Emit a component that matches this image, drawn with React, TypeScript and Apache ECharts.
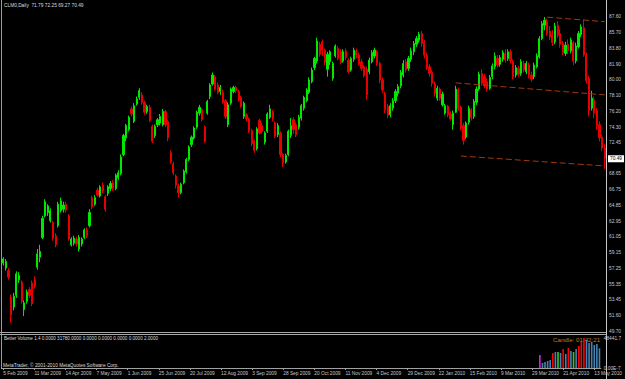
import React, { useEffect, useRef } from "react";
import * as echarts from "echarts";

const symbolTitle = "CLM0,Daily  71.79 72.25 69.27 70.49";
const indicatorTitle = "Better Volume 1.4 0.0000 31780.0000 0.0000 0.0000 0.0000 0.0000 2.0000";
const copyright = "MetaTrader, \u00a9 2001-2010 MetaQuotes Software Corp.";
const candleTimer = "Candle: 01:42:21";

// [open, close, low, high]
const candlesPart1 = [
  [57.9, 58.4, 57.6, 58.6], [57.3, 58.1, 57.0, 58.4], [57.0, 56.2, 55.9, 57.3], [53.8, 51.6, 50.7, 54.1],
  [52.6, 53.9, 52.2, 54.3], [54.0, 56.6, 53.7, 56.9], [55.9, 56.4, 55.5, 56.8], [55.6, 53.3, 53.0, 55.8],
  [52.3, 53.1, 51.5, 53.4], [53.3, 54.4, 53.0, 54.7], [54.7, 54.0, 53.7, 55.0], [55.5, 53.0, 52.7, 55.8],
  [55.9, 55.1, 54.8, 56.3], [57.4, 59.0, 57.1, 59.6], [58.6, 59.3, 58.0, 60.1], [61.0, 63.3, 60.8, 63.6],
  [63.6, 65.3, 63.4, 65.6], [64.0, 64.8, 63.6, 65.0], [63.0, 64.2, 62.8, 64.5], [62.8, 60.9, 60.6, 63.0],
  [61.2, 60.1, 59.8, 61.5], [62.4, 65.0, 62.2, 65.3], [64.2, 65.4, 64.0, 65.8], [64.4, 64.9, 64.0, 65.3],
  [65.0, 64.3, 64.0, 65.3], [63.6, 60.8, 60.6, 63.8], [60.1, 60.8, 59.9, 61.0], [60.3, 60.9, 60.0, 61.2],
  [60.8, 60.2, 59.9, 61.1], [59.6, 61.0, 59.3, 61.3], [60.2, 60.8, 59.9, 61.0], [61.0, 61.9, 60.8, 62.1],
  [61.9, 61.2, 60.9, 62.2], [62.4, 64.0, 62.2, 64.4], [65.8, 64.7, 64.4, 66.0], [65.0, 65.8, 64.8, 66.1],
  [66.7, 66.1, 65.9, 67.0], [66.0, 67.1, 65.8, 67.3], [67.3, 66.6, 66.3, 67.6], [65.9, 64.4, 64.1, 66.1],
  [66.3, 67.1, 66.0, 67.3], [66.9, 67.5, 66.6, 67.8], [67.6, 66.9, 66.6, 67.9], [66.9, 68.5, 66.7, 68.7],
  [68.2, 68.8, 67.9, 69.1], [68.7, 70.7, 68.5, 71.0], [71.0, 73.3, 70.8, 73.5], [73.0, 74.5, 72.6, 74.7],
  [74.0, 75.5, 73.8, 75.7], [76.5, 75.9, 75.6, 76.8], [75.0, 76.9, 74.8, 77.2], [77.1, 77.7, 76.9, 78.0],
  [77.9, 78.7, 77.6, 79.0], [78.2, 77.3, 77.0, 78.5], [77.3, 76.1, 75.8, 77.5], [76.2, 76.8, 75.9, 77.0],
  [76.7, 75.1, 74.9, 77.0], [74.4, 72.6, 72.4, 74.6],
];
const candlesPart2 = [
  [73.3, 74.4, 73.0, 74.6], [74.6, 75.2, 74.3, 75.4], [74.8, 75.6, 74.5, 75.9], [74.6, 76.2, 74.4, 76.5],
  [76.2, 74.6, 74.3, 76.4], [75.0, 73.0, 72.6, 75.2], [71.2, 70.1, 69.9, 71.5], [69.9, 68.8, 68.5, 70.1],
  [68.4, 67.3, 66.9, 68.6], [67.2, 66.4, 65.8, 67.5], [66.4, 67.4, 66.2, 67.6], [67.6, 69.0, 67.4, 69.2],
  [68.9, 70.4, 68.7, 70.6], [70.4, 71.9, 70.2, 72.1], [72.2, 73.1, 71.9, 73.3], [73.0, 74.2, 72.8, 74.4],
  [74.3, 76.1, 74.1, 76.3], [76.0, 76.7, 75.7, 77.0], [76.4, 75.2, 75.0, 76.6], [74.3, 72.6, 72.4, 74.5],
  [76.0, 77.4, 75.8, 77.6], [78.0, 79.4, 77.7, 79.6], [79.5, 80.6, 79.3, 80.9], [80.4, 78.9, 78.7, 80.6],
  [79.4, 78.5, 78.3, 79.7], [78.6, 79.1, 78.2, 79.4], [78.5, 77.3, 77.1, 78.8], [77.5, 75.6, 75.3, 77.7],
  [74.6, 77.0, 74.3, 77.3], [77.2, 78.9, 77.0, 79.1], [78.6, 79.1, 78.4, 79.3], [79.1, 78.7, 78.4, 79.3],
  [78.6, 77.6, 77.4, 78.8], [77.9, 76.8, 76.6, 78.1], [75.6, 77.2, 75.3, 77.4], [75.8, 75.3, 75.0, 76.0],
  [75.3, 73.8, 73.6, 75.5], [73.9, 72.3, 72.0, 74.1], [72.6, 71.5, 71.2, 72.8], [71.7, 74.1, 71.5, 74.3],
  [75.1, 73.6, 73.4, 75.3], [74.5, 73.8, 73.5, 74.8], [72.5, 73.6, 72.2, 73.8], [73.8, 75.9, 73.6, 76.1],
  [75.5, 76.5, 75.3, 77.0], [76.2, 75.3, 75.0, 76.4], [74.8, 73.2, 73.0, 75.0], [73.4, 74.5, 73.1, 74.8],
  [73.6, 71.0, 70.7, 73.8], [71.0, 70.0, 69.5, 71.2], [70.1, 70.9, 69.9, 71.1], [71.0, 73.8, 70.8, 74.0],
  [73.3, 74.5, 73.0, 75.4], [75.2, 74.0, 73.5, 75.5], [74.6, 73.4, 73.1, 74.9], [74.3, 75.5, 74.0, 75.8],
  [75.4, 76.9, 75.1, 77.1], [76.6, 77.9, 76.3, 78.1],
];
const candlesPart3 = [
  [77.5, 78.8, 77.3, 79.0], [78.5, 80.0, 78.3, 80.3], [79.8, 81.2, 79.6, 81.5], [81.5, 82.6, 81.2, 82.8],
  [82.3, 84.7, 82.0, 85.1], [84.3, 83.1, 82.8, 84.6], [84.6, 83.6, 82.9, 84.9], [83.6, 82.1, 81.8, 83.8],
  [81.3, 83.1, 80.4, 83.4], [82.2, 83.4, 81.8, 83.6], [80.2, 82.0, 79.9, 82.2], [82.9, 84.1, 82.7, 84.3],
  [83.8, 82.6, 82.4, 84.1], [83.4, 82.1, 81.9, 83.7], [82.3, 83.4, 82.1, 83.7], [83.5, 82.7, 82.4, 83.8],
  [82.4, 81.0, 80.8, 82.6], [81.2, 82.6, 81.0, 82.8], [82.5, 83.6, 82.2, 83.9], [83.5, 83.0, 82.6, 83.8],
  [83.0, 82.0, 81.8, 83.3], [82.2, 81.4, 81.1, 82.5], [81.6, 80.5, 80.3, 81.8], [81.3, 78.2, 77.6, 81.6],
  [81.0, 82.4, 80.7, 82.7], [82.2, 83.3, 82.0, 83.6], [82.9, 83.6, 82.6, 83.9], [83.4, 82.0, 81.7, 83.6],
  [82.0, 80.0, 79.6, 82.2], [80.0, 78.8, 78.4, 80.3], [78.3, 76.4, 76.0, 78.6], [76.8, 75.7, 75.4, 77.1],
  [75.8, 76.9, 75.5, 77.2], [76.6, 77.5, 76.3, 77.8], [77.5, 78.6, 77.2, 78.9], [78.4, 79.2, 78.0, 79.5],
  [79.3, 80.9, 79.0, 81.2], [80.6, 82.0, 80.3, 82.4], [82.2, 81.2, 80.9, 82.5], [81.4, 82.6, 81.1, 82.9],
  [82.5, 83.5, 82.2, 83.9], [83.4, 84.4, 83.0, 84.7], [84.3, 85.0, 84.0, 85.3], [84.8, 85.5, 84.5, 85.8],
  [85.6, 84.4, 84.0, 85.9], [84.5, 83.0, 82.6, 84.8], [83.0, 81.5, 81.2, 83.3], [81.6, 80.8, 80.4, 81.9],
  [80.9, 79.6, 79.2, 81.2], [79.5, 78.4, 78.0, 79.8], [77.8, 79.0, 77.5, 79.3], [78.9, 77.8, 77.5, 79.1],
  [77.0, 78.3, 76.8, 78.6], [76.0, 76.9, 75.8, 77.1], [76.8, 75.8, 75.5, 77.0], [75.9, 75.3, 75.1, 76.2],
  [74.6, 76.0, 74.0, 76.3],
];
const candlesPart4 = [
  [76.1, 78.9, 76.0, 79.3], [78.8, 76.6, 76.3, 79.1], [76.7, 74.2, 73.9, 76.9], [74.5, 72.7, 72.2, 74.8],
  [73.1, 74.8, 72.9, 75.0], [74.9, 76.6, 74.6, 76.9], [76.4, 75.4, 75.1, 76.6], [75.6, 77.4, 75.3, 77.7],
  [77.3, 78.9, 77.0, 79.2], [78.9, 80.7, 78.7, 81.0], [80.8, 79.6, 79.3, 81.3], [80.4, 79.3, 79.0, 80.7],
  [79.8, 78.9, 78.6, 80.2], [79.0, 80.3, 78.8, 80.6], [80.4, 81.7, 80.1, 82.0], [81.6, 82.9, 81.3, 83.3],
  [82.6, 81.8, 81.5, 83.0], [81.9, 82.7, 81.6, 83.0], [82.5, 83.3, 82.2, 83.6], [83.2, 82.4, 82.1, 83.7],
  [82.6, 83.4, 82.3, 83.7], [83.4, 82.3, 82.0, 83.7], [82.2, 80.4, 80.1, 82.5], [80.6, 81.5, 80.3, 81.8],
  [81.4, 80.7, 80.4, 81.7], [80.8, 82.2, 80.5, 82.5], [82.0, 81.2, 80.9, 82.3], [81.0, 82.0, 80.7, 82.3],
  [81.8, 80.6, 80.2, 82.1], [80.6, 80.1, 79.8, 81.0], [80.4, 81.8, 80.1, 82.1], [81.6, 82.9, 81.4, 83.2],
  [82.8, 85.0, 82.6, 85.3], [85.0, 86.8, 84.8, 87.1], [86.6, 87.2, 86.0, 87.6], [87.0, 85.6, 85.3, 87.4],
  [85.9, 85.2, 84.8, 86.5], [85.4, 84.5, 84.1, 86.0], [84.6, 86.5, 84.3, 86.9], [86.6, 85.4, 85.1, 87.1],
  [85.6, 84.3, 83.9, 86.1], [84.4, 83.3, 83.0, 84.7], [83.2, 84.2, 82.9, 84.6], [84.3, 83.5, 83.1, 84.9],
  [83.5, 84.8, 83.2, 85.1], [84.5, 82.3, 81.8, 84.7], [82.3, 84.1, 82.0, 84.5], [84.0, 85.6, 83.8, 85.9],
  [85.5, 86.4, 85.2, 86.7], [86.3, 83.0, 82.8, 87.3], [83.0, 79.9, 79.6, 83.3], [80.2, 76.3, 75.6, 80.5],
  [76.6, 77.8, 76.3, 78.7], [77.6, 76.0, 75.4, 78.0], [76.3, 74.5, 74.0, 76.6], [74.6, 73.0, 72.6, 75.0],
  [73.1, 71.8, 71.4, 73.4], [71.79, 70.49, 69.27, 72.25],
];

const currentPrice = 70.49;
const priceTicks = [49.7, 51.6, 53.45, 55.35, 57.25, 59.15, 61.05, 62.95, 64.85, 66.75, 68.65,
  72.45, 74.3, 76.2, 78.1, 80.0, 81.9, 83.8, 85.7, 87.6];
const priceMin = 49.7;
const priceMax = 89.41;

const dateTicks = ["5 Feb 2009", "11 Mar 2009", "14 Apr 2009", "7 May 2009", "1 Jun 2009", "25 Jun 2009",
  "20 Jul 2009", "12 Aug 2009", "3 Sep 2009", "28 Sep 2009", "20 Oct 2009", "11 Nov 2009", "4 Dec 2009",
  "29 Dec 2009", "22 Jan 2010", "15 Feb 2010", "9 Mar 2010", "29 Mar 2010", "21 Apr 2010", "13 May 2010"];
const barsPerDateTick = 12;

// trend channel lines: [bar index, price]
const upperChannel = [[208, 87.58], [230, 87.03]];
const middleChannel = [[173, 79.65], [230, 78.2]];
const lowerChannel = [[175, 70.82], [230, 69.62]];

// Better Volume (last bars only)
const volumeStartIndex = 207;
const volumeRecent = [21000, 8100, 9700, 11300, 12900, 24200, 25800, 25800, 24200, 30700, 22600, 32300,
  27500, 25800, 30700, 35500, 42000, 48441.7, 45200, 40400, 42000, 37100, 38800, 31780];
const volumeKinds = ["churn", "normal", "normal", "normal", "normal", "climax", "normal", "low", "normal",
  "climax", "normal", "climax", "normal", "low", "normal", "climax", "climax", "climax", "normal", "normal",
  "normal", "normal", "normal", "normal"];
const volumeMax = 48441.7;
const volumeAxisLabels = ["0.00E-7", "48441.7"];

const BULL = "#00e800";
const BEAR = "#e80000";
const TEXT = "#c8c8c8";
const FONT = "'Liberation Sans', Arial, sans-serif";
const volumeColorMap: Record<string, string> = {
  normal: "#4682b4",
  climax: "#ff0000",
  low: "#2ecc2e",
  churn: "#e020e0",
};

export default function App() {
  const ref = useRef<HTMLDivElement>(null);
  useEffect(() => {
    if (!ref.current) return;
    const chart = echarts.init(ref.current, undefined, { renderer: "svg" });
    const candles = [...candlesPart1, ...candlesPart2, ...candlesPart3, ...candlesPart4];
    const barIds = candles.map((_, i) => String(i));
    const volumeData = candles.map((_, i) => {
      const k = i - volumeStartIndex;
      if (k < 0 || k >= volumeRecent.length) return "-";
      return { value: volumeRecent[k], itemStyle: { color: volumeColorMap[volumeKinds[k]] } };
    });
    const channelStyle = { color: "#a3380c", width: 1, type: [6, 3] as any };

    const option: any = {
      animation: false,
      backgroundColor: "#000000",
      textStyle: { fontFamily: FONT },
      grid: [
        { left: 2, right: 19, top: 2, height: 329 },
        { left: 2, right: 19, top: 338, height: 30 },
      ],
      xAxis: [
        {
          type: "category", gridIndex: 0, data: barIds, boundaryGap: true,
          axisLine: { show: false }, axisTick: { show: false }, axisLabel: { show: false }, splitLine: { show: false },
        },
        {
          type: "category", gridIndex: 1, data: barIds, boundaryGap: true,
          axisLine: { show: true, lineStyle: { color: "#a0a0a0", width: 1 } },
          axisTick: { show: true, interval: barsPerDateTick - 1, alignWithLabel: true, length: 2, lineStyle: { color: "#a0a0a0" } },
          axisLabel: {
            interval: barsPerDateTick - 1, align: "left", color: TEXT, fontSize: 4.8, margin: 3, fontFamily: FONT,
            formatter: (_v: string, idx: number) => dateTicks[idx / barsPerDateTick] ?? "",
          },
          splitLine: { show: false },
        },
      ],
      yAxis: [
        {
          type: "value", gridIndex: 0, position: "right", min: priceMin, max: priceMax,
          splitLine: { show: false }, axisLine: { show: false }, axisTick: { show: false },
          axisLabel: {
            customValues: priceTicks, color: TEXT, fontSize: 4.8, margin: 3, fontFamily: FONT,
            formatter: (v: number) => v.toFixed(2),
          },
        },
        {
          type: "value", gridIndex: 1, position: "right", min: 0, max: volumeMax,
          splitLine: { show: false }, axisLine: { show: false }, axisTick: { show: false },
          axisLabel: {
            customValues: [0, volumeMax], color: TEXT, fontSize: 4.8, margin: 3, fontFamily: FONT,
            formatter: (v: number) => (v === 0 ? volumeAxisLabels[0] : volumeAxisLabels[1]),
          },
        },
      ],
      series: [
        {
          type: "candlestick", xAxisIndex: 0, yAxisIndex: 0, data: candles, barWidth: 1.7,
          itemStyle: { color: BULL, color0: BEAR, borderColor: BULL, borderColor0: BEAR, borderWidth: 1 },
          markLine: {
            silent: true, symbol: "none", animation: false,
            lineStyle: { color: "rgba(0,0,0,0)", width: 0 },
            label: {
              show: true, position: "end", formatter: currentPrice.toFixed(2), color: "#000000",
              backgroundColor: "#ffffff", fontSize: 4.8, fontFamily: FONT, padding: [1, 2, 1, 2], distance: 2,
            },
            data: [{ yAxis: currentPrice }],
          },
        },
        { type: "line", xAxisIndex: 0, yAxisIndex: 0, data: upperChannel, symbol: "none", silent: true, lineStyle: channelStyle },
        { type: "line", xAxisIndex: 0, yAxisIndex: 0, data: middleChannel, symbol: "none", silent: true, lineStyle: channelStyle },
        { type: "line", xAxisIndex: 0, yAxisIndex: 0, data: lowerChannel, symbol: "none", silent: true, lineStyle: channelStyle },
        { type: "bar", xAxisIndex: 1, yAxisIndex: 1, data: volumeData, barWidth: 1.6, silent: true },
      ],
      graphic: [
        { type: "line", shape: { x1: 1.5, y1: 0, x2: 1.5, y2: 369 }, style: { stroke: "#9a9a9a", lineWidth: 1 } },
        { type: "line", shape: { x1: 606.5, y1: 0, x2: 606.5, y2: 379 }, style: { stroke: "#c8c8c8", lineWidth: 1 } },
        { type: "line", shape: { x1: 0, y1: 332.5, x2: 606, y2: 332.5 }, style: { stroke: "#a8a8a8", lineWidth: 1 } },
        { type: "line", shape: { x1: 0, y1: 334.5, x2: 606, y2: 334.5 }, style: { stroke: "#a8a8a8", lineWidth: 1 } },
        { type: "text", left: 4, top: 3, style: { text: symbolTitle, fill: "#dcdcdc", fontSize: 4.8, fontFamily: FONT } },
        { type: "text", left: 4, top: 336, style: { text: indicatorTitle, fill: "#dcdcdc", fontSize: 4.6, fontFamily: FONT } },
        { type: "text", left: 3, top: 363, style: { text: copyright, fill: "#dcdcdc", fontSize: 4.8, fontFamily: FONT } },
        { type: "text", left: 553, top: 336, style: { text: candleTimer, fill: "#c47a1c", fontSize: 6.2, fontFamily: FONT } },
      ],
    };
    chart.setOption(option);
    return () => chart.dispose();
  }, []);
  return (
    <div
      ref={ref}
      style={{ position: "fixed", left: 0, top: 0, width: 625, height: 379, background: "#000" }}
    />
  );
}
